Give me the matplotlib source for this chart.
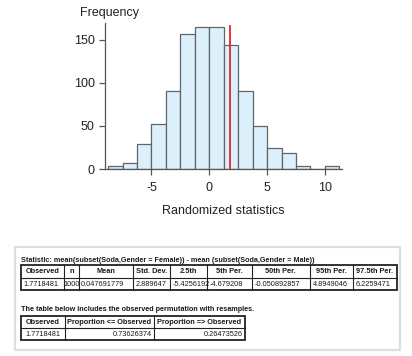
import matplotlib
matplotlib.use("Agg")
import matplotlib.pyplot as plt
from matplotlib.patches import Rectangle

plt.rcParams["font.family"] = ["Liberation Sans", "DejaVu Sans"]
plt.rcParams["axes.unicode_minus"] = False

# ── Data ─────────────────────────────────────────────────────
# randomized statistics, 1000 resamples, bins of width 1.25
bin_left = [-8.75, -7.5, -6.25, -5.0, -3.75, -2.5, -1.25, 0.0,
            1.25, 2.5, 3.75, 5.0, 6.25, 7.5, 8.75, 10.0]
counts = [3, 7, 29, 52, 90, 157, 165, 165, 144, 91, 50, 24, 19, 3, 0, 3]
bin_width = 1.25
observed = 1.7718481

stat_title = "Statistic: mean(subset(Soda,Gender = Female)) - mean (subset(Soda,Gender = Male))"
summary_cols = ["Observed", "n", "Mean", "Std. Dev.", "2.5th", "5th Per.",
                "50th Per.", "95th Per.", "97.5th Per."]
summary_vals = ["1.7718481", "1000", "0.047691779", "2.889647", "-5.4256192",
                "-4.679208", "-0.050892857", "4.8949046", "6.2259471"]
perm_title = "The table below includes the observed permutation with resamples."
perm_cols = ["Observed", "Proportion <= Observed", "Proportion => Observed"]
perm_vals = ["1.7718481", "0.73626374", "0.26473526"]

W, H = 412, 356
fig = plt.figure(figsize=(W / 100, H / 100), dpi=100)

# ── Table panel (pixel coordinates) ──────────────────────────
tab = fig.add_axes([0, 0, 1, 1])
tab.set_xlim(0, W)
tab.set_ylim(H, 0)
tab.axis("off")

tab.add_patch(Rectangle((15, 247), 385, 103, facecolor="white",
                        edgecolor="#dedede", linewidth=1.6))

TXT = "#1a1a1a"
FS = 5.3


def draw_table(xs, y_top, row_h, header, values, align):
    y_mid = y_top + row_h
    y_bot = y_top + 2 * row_h
    for x in xs[1:-1]:
        tab.plot([x, x], [y_top, y_bot], color="#222", lw=0.8)
    tab.plot([xs[0], xs[-1]], [y_mid, y_mid], color="#222", lw=0.8)
    tab.add_patch(Rectangle((xs[0], y_top), xs[-1] - xs[0], 2 * row_h,
                            fill=False, edgecolor="#222", linewidth=1.3))
    for i, (h, v) in enumerate(zip(header, values)):
        xl, xr = xs[i], xs[i + 1]
        tab.text((xl + xr) / 2, y_top + row_h / 2 + 0.3, h, ha="center",
                 va="center", fontsize=FS, fontweight="bold", color=TXT)
        a = align[i]
        if a == "left":
            xt = xl + 2.5
        elif a == "right":
            xt = xr - 2.5
        else:
            xt = (xl + xr) / 2
        tab.text(xt, y_mid + row_h / 2 + 0.3, v, ha=a, va="center",
                 fontsize=FS, color=TXT)


tab.text(20.7, 260, stat_title, ha="left", va="center", fontsize=5.2,
         fontweight="bold", color=TXT)
draw_table([20.7, 64.3, 78.7, 133.3, 170, 206.7, 251.7, 310, 352.7, 396.7],
           265, 12.5, summary_cols, summary_vals,
           ["left", "center"] + ["left"] * 7)

tab.text(20.7, 309.3, perm_title, ha="left", va="center", fontsize=5.2,
         fontweight="bold", color=TXT)
draw_table([20.7, 65, 154, 245], 316, 12, perm_cols, perm_vals,
           ["center", "right", "right"])

# ── Histogram ────────────────────────────────────────────────
ax = fig.add_axes([105 / W, 1 - 169 / H, 236.7 / W, 145.7 / H])
ax.bar(bin_left, counts, width=bin_width, align="edge",
       color="#dcf0fb", edgecolor="#5f656a", linewidth=0.9)
ax.axvline(observed, ymin=0, ymax=166 / 169, color="#e8232d", lw=1.3)

ax.set_xlim(-9.02, 11.45)
ax.set_ylim(0, 169)
ax.set_xticks([-5, 0, 5, 10])
ax.set_yticks([0, 50, 100, 150])
for side in ["top", "right"]:
    ax.spines[side].set_visible(False)
for side in ["left", "bottom"]:
    ax.spines[side].set_color("#555")
    ax.spines[side].set_linewidth(0.9)
ax.tick_params(direction="out", length=4.3, width=0.9, color="#555",
               labelsize=9, labelcolor="#222", pad=3)
ax.tick_params(axis="x", pad=5)
ax.patch.set_alpha(0)

fig.text(80 / W, 1 - 13 / H, "Frequency", ha="left", va="center",
         fontsize=9, color="#222")
fig.text(223.4 / W, 1 - 211 / H, "Randomized statistics", ha="center",
         va="center", fontsize=9, color="#222")

fig.savefig("out.png", dpi=100)
